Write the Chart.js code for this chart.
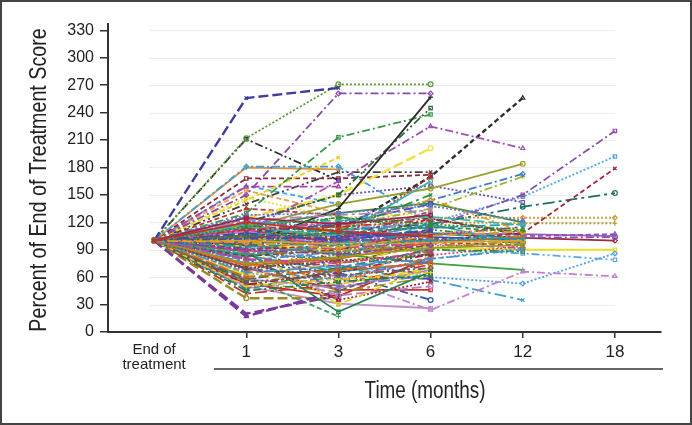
<!DOCTYPE html>
<html>
<head>
<meta charset="utf-8">
<script src="https://cdn.jsdelivr.net/npm/chart.js@4/dist/chart.umd.min.js"></script>
<style>
  html, body { margin: 0; padding: 0; background: #fff; }
  #wrap { width: 692px; height: 425px; position: relative; }
</style>
</head>
<body>
<div id="wrap"><canvas id="chart" width="692" height="425"></canvas></div>
<script>
const categories = [["End of", "treatment"], "1", "3", "6", "12", "18"];
const yStep = 30;
const yTop = 330;

// lines that stand out from the bundle
const outlierSeries = [
  [100, 256, 267, null, null, null],
  [100, 212, 271, 271, null, null],
  [100, 150, 261, 261, null, null],
  [100, 95, 135, 257, null, null],
  [100, 130, 213, 238, null, null],
  [100, 120, 150, 245, null, null],
  [100, 110, 165, 225, 201, null],
  [100, 144, 191, null, null, null],
  [100, 125, 150, 201, null, null],
  [100, 181, 181, 120, null, null],
  [100, 180, 178, null, null, null],
  [100, 211, 166, null, null, null],
  [100, 168, 168, 172, null, null],
  [100, 159, 159, null, null, null],
  [100, 140, 175, 175, null, null],
  [100, 115, 140, 157, 184, null],
  [100, 105, 120, 144, 173, null],
  [100, 110, 115, 135, 170, null],
  [100, 100, 105, 115, 150, 220],
  [100, 95, 110, 120, 148, 192],
  [100, 100, 110, 170, 256, null],
  [100, 90, 95, 100, 108, 179],
  [100, 105, 112, 118, 137, 152],
  [100, 110, 120, 125, 125, 125],
  [100, 105, 115, 120, 119, 119],
  [100, 120, 150, 160, 142, null],
  [100, 115, 130, 141, 120, null],
  [100, 17, 45, null, null, null],
  [100, 20, 40, null, null, null],
  [100, 37, 37, null, null, null],
  [100, 53, 39, 82, null, null],
  [100, 60, 17, null, null, null],
  [100, 50, 31, 26, null, null],
  [100, 70, 46, 46, null, null],
  [100, 85, 60, 24, 66, 61],
  [100, 80, 70, 57, 35, null],
  [100, 75, 65, 35, null, null],
  [100, 90, 80, 60, 53, 86],
  [100, 95, 85, 75, 68, null],
  [100, 95, 90, 92, 90, 90],
  [100, 92, 88, 90, 86, 79],
  [100, 100, 98, 102, 105, 107],
  [100, 105, 102, 108, 107, 105],
  [100, 95, 100, 100, 103, 104],
  [100, 110, 105, 108, 103, 100],
  [100, 160, 140, null, null, null],
  [100, 147, 125, 130, null, null],
  [100, 155, 130, null, null, null],
  [100, 135, 128, null, null, null]
];
const outlierColors = [
  "#3c3c9c", "#5a9a3a", "#8a4aa8", "#2a2a2a", "#3a9a4a", "#2a6a3a", "#a050b0", "#e8d020",
  "#f0e040", "#40a0d0", "#e09040", "#303030", "#8a2a3a", "#b040a0", "#404040", "#9aa030",
  "#3a80c0", "#a0b030", "#8a50b0", "#50a8e0", "#303030", "#a02838", "#207060", "#d0a040",
  "#b0a030", "#7050b0", "#3a8a3a", "#7a3a9a", "#7a3a9a", "#9a8a20", "#c02a2a", "#3aa05a",
  "#c090c8", "#d03030", "#c080d0", "#40a0d0", "#3050b0", "#50a0e0", "#40a040", "#e8e020",
  "#60a8d8", "#8a50b8", "#9a60c0", "#7a50a8", "#a02838", "#40a8e0", "#e8e040", "#e8a050", "#c03030"
];
const outlierDash = [
  "long", "dot", "dashdot", "solid", "dashdot", "dashdotdot", "dashdot", "dash",
  "long", "dashdot", "solid", "dashdotdot", "dash", "dashdot", "dashdotdot", "solid",
  "dashdot", "dashdot", "dashdot", "dot", "dash", "dash", "longdashdot", "dot",
  "dot", "dot", "solid", "long", "long", "long", "solid", "dash",
  "solid", "solid", "dashdot", "longdashdot", "dashdotdot", "dot", "solid", "solid",
  "dashdotdot", "dash", "solid", "dashdot", "solid", "dash", "dot", "dash", "dash"
];

// the dense bundle around 100
const clusterSeries = [
  [100, 120, 110, 105, null, null],
  [100, 115, 125, 118, 112, null],
  [100, 108, 100, 112, null, null],
  [100, 98, 92, 105, 110, null],
  [100, 90, 85, 95, null, null],
  [100, 85, 95, 100, 102, null],
  [100, 80, 75, 88, null, null],
  [100, 75, 82, 92, 95, null],
  [100, 70, 78, 85, null, null],
  [100, 65, 72, 80, 90, null],
  [100, 60, 68, 75, null, null],
  [100, 55, 62, 70, null, null],
  [100, 50, 58, 65, null, null],
  [100, 45, 55, 62, null, null],
  [100, 125, 118, 128, null, null],
  [100, 128, 130, 138, 122, null],
  [100, 122, 128, 133, null, null],
  [100, 118, 122, 126, 117, null],
  [100, 112, 115, 122, null, null],
  [100, 105, 108, 115, 110, null],
  [100, 102, 104, 110, null, null],
  [100, 100, 96, 98, 100, null],
  [100, 96, 100, 104, null, null],
  [100, 93, 98, 108, 101, null],
  [100, 88, 92, 97, null, null],
  [100, 86, 88, 94, 98, null],
  [100, 83, 90, 110, null, null],
  [100, 78, 88, 102, null, null],
  [100, 73, 80, 98, 104, null],
  [100, 68, 85, 105, null, null],
  [100, 63, 75, 95, null, null],
  [100, 58, 70, 90, null, null],
  [100, 52, 65, 85, null, null],
  [100, 48, 60, 78, null, null],
  [100, 110, 95, 130, null, null],
  [100, 115, 105, 165, null, null],
  [100, 105, 100, 170, null, null],
  [100, 95, 110, 150, null, null],
  [100, 108, 118, 140, null, null],
  [100, 100, 112, 145, 110, null],
  [100, 90, 102, 132, null, null],
  [100, 85, 80, 120, null, null],
  [100, 112, 90, 112, null, null],
  [100, 118, 86, 100, null, null],
  [100, 122, 75, 96, null, null],
  [100, 126, 65, 92, null, null],
  [100, 104, 55, 82, null, null],
  [100, 98, 45, 78, null, null],
  [100, 94, 30, 72, null, null],
  [100, 88, 22, 66, null, null],
  [100, 80, 35, 55, null, null],
  [100, 76, 50, 62, null, null],
  [100, 72, 40, 50, null, null],
  [100, 102, 98, 100, 105, null],
  [100, 106, 102, 98, 95, null],
  [100, 99, 95, 90, 88, null],
  [100, 103, 108, 104, 100, null],
  [100, 101, 106, 108, 112, null],
  [100, 97, 103, 106, 115, null],
  [100, 107, 112, 114, 118, null],
  [100, 112, 120, 96, 92, null],
  [100, 118, 100, 86, null, null],
  [100, 92, 118, 124, 108, null],
  [100, 82, 98, 118, 96, null],
  [100, 66, 92, 88, null, null],
  [100, 56, 82, 100, null, null],
  [100, 62, 52, 70, null, null],
  [100, 104, 126, 112, 102, null],
  [100, 114, 96, 124, 106, null],
  [100, 124, 108, 90, null, null],
  [100, 58, 48, 68, null, null],
  [100, 64, 58, 80, 92, null],
  [100, 42, 52, 74, null, null],
  [100, 47, 68, 86, null, null],
  [100, 69, 62, 58, null, null],
  [100, 74, 56, 92, 100, null],
  [100, 79, 72, 64, null, null],
  [100, 84, 66, 76, null, null],
  [100, 89, 76, 84, 94, null],
  [100, 54, 44, 60, null, null],
  [100, 116, 110, 100, 98, null],
  [100, 121, 114, 116, null, null]
];

const palette = ["#c0302a", "#2e8b3a", "#3a4fb0", "#e0a020", "#8a3fa0", "#1f9aa0", "#d04090", "#9a9a20",
  "#6a4a2a", "#4a90d0", "#e06020", "#606060", "#e0d020", "#208050", "#a02040", "#7070d0", "#b080c0", "#40b0b0"];
const dashKinds = ["solid", "dash", "long", "dot", "dashdot", "dashdotdot", "longdashdot"];
const markers = ["rect", "triangle", "crossRot", "circle", "rectRot", "cross", "rect"];

const dashMap = {
  solid: [], dash: [5, 3], long: [10, 4], dot: [2, 2],
  dashdot: [8, 3, 2, 3], dashdotdot: [8, 3, 2, 3, 2, 3], longdashdot: [12, 4, 3, 4]
};

const FONT = "'Liberation Sans', Arial, sans-serif";
const TXT = "#222";

function makeSet(values, color, dash, marker, width) {
  return {
    data: values,
    borderColor: color,
    backgroundColor: color,
    pointBorderColor: color,
    pointBackgroundColor: "rgba(255,255,255,0)",
    borderDash: dashMap[dash],
    borderWidth: width,
    pointStyle: marker,
    pointRadius: 2.4,
    pointBorderWidth: 1.2,
    tension: 0,
    fill: false,
    spanGaps: false
  };
}

const datasets = [];
clusterSeries.forEach((vals, i) => {
  datasets.push(makeSet(vals, palette[i % palette.length], dashKinds[(i * 3) % dashKinds.length],
    markers[i % markers.length], 1.7));
});
outlierSeries.forEach((vals, i) => {
  const w = (outlierDash[i] === "long" || i === 0 || i === 20) ? 2.4 : 1.8;
  datasets.push(makeSet(vals, outlierColors[i], outlierDash[i], markers[(i + 2) % markers.length], w));
});

// condensed look: draw wider glyphs squeezed along the text direction
function narrowText(ctx, text, x, y, size, angle) {
  ctx.save();
  ctx.translate(x, y);
  ctx.rotate(angle);
  ctx.scale(0.82, 1);
  ctx.font = size + "px " + FONT;
  ctx.textAlign = "center";
  ctx.textBaseline = "middle";
  ctx.fillStyle = TXT;
  ctx.fillText(text, 0, 0);
  ctx.restore();
}

const decor = {
  id: "decor",
  beforeDatasetsDraw(chart) {
    const { ctx, scales: { x, y } } = chart;
    ctx.save();
    ctx.strokeStyle = "#ececec";
    ctx.lineWidth = 1;
    const x0 = x.getPixelForValue(0) - 5;
    const x1 = x.getPixelForValue(5);
    for (let v = yStep; v <= yTop; v += yStep) {
      const py = Math.round(y.getPixelForValue(v)) + 0.5;
      ctx.beginPath();
      ctx.moveTo(x0, py);
      ctx.lineTo(x1, py);
      ctx.stroke();
    }
    ctx.restore();
  },
  afterDraw(chart) {
    const { ctx, scales: { x } } = chart;
    ctx.save();
    // second rule under the month labels
    ctx.strokeStyle = "#333";
    ctx.lineWidth = 1.5;
    ctx.beginPath();
    ctx.moveTo(214, 369);
    ctx.lineTo(x.right + 2, 369);
    ctx.stroke();
    ctx.restore();
    narrowText(ctx, "Time (months)", 425, 392, 23, 0);
    narrowText(ctx, "Percent of End of Treatment Score", 39, 180, 24, -Math.PI / 2);
    // outer frame
    ctx.save();
    ctx.strokeStyle = "#444";
    ctx.lineWidth = 2;
    ctx.strokeRect(1, 1, chart.width - 2, chart.height - 2);
    ctx.restore();
  }
};

new Chart(document.getElementById("chart"), {
  type: "line",
  data: { labels: categories, datasets },
  options: {
    responsive: false,
    animation: false,
    events: [],
    layout: { padding: { top: 24, right: 31, left: 0, bottom: 0 } },
    plugins: { legend: { display: false }, tooltip: { enabled: false } },
    scales: {
      x: {
        offset: true,
        grid: {
          drawOnChartArea: false,
          drawTicks: true,
          tickLength: 6,
          lineWidth: 1.5,
          color: (c) => c.index === 0 ? "rgba(0,0,0,0)" : "#333"
        },
        border: { color: "#333", width: 2 },
        ticks: {
          color: TXT,
          padding: 4,
          maxRotation: 0,
          autoSkip: false,
          font: (c) => c.index === 0
            ? { family: FONT, size: 15, lineHeight: 1.0 }
            : { family: FONT, size: 17, lineHeight: 1.2 }
        },
        afterFit: (s) => { s.height = 93; }
      },
      y: {
        min: 0,
        max: 337,
        afterBuildTicks: (s) => {
          const vals = [];
          for (let v = 0; v <= yTop; v += yStep) vals.push({ value: v });
          s.ticks = vals;
        },
        grid: { drawOnChartArea: false, drawTicks: true, tickLength: 8, color: "#333", lineWidth: 1.5 },
        border: { color: "#333", width: 2 },
        ticks: { stepSize: yStep, color: TXT, padding: 6, font: { family: FONT, size: 16 } },
        afterFit: (s) => { s.width = 108; }
      }
    }
  },
  plugins: [decor]
});
</script>
</body>
</html>
